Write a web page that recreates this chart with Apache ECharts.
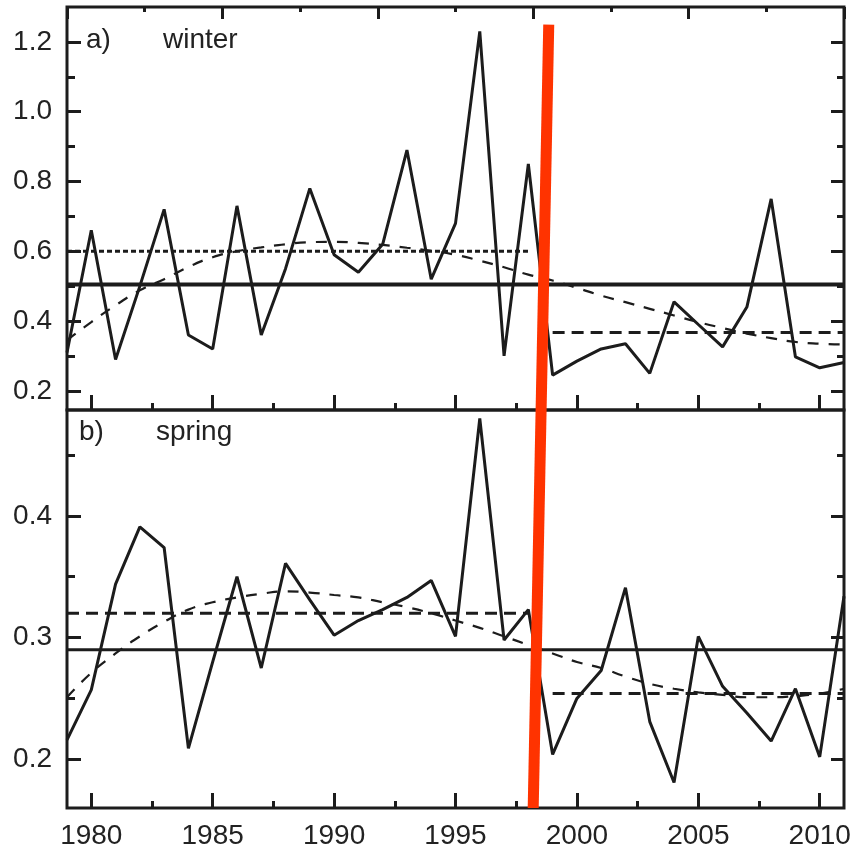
<!DOCTYPE html>
<html>
<head>
<meta charset="utf-8">
<style>
html, body { margin: 0; padding: 0; background: #fff; }
#main { width: 856px; height: 856px; }
</style>
<script src="https://cdn.jsdelivr.net/npm/echarts@6.0.0/dist/echarts.min.js"></script>
</head>
<body>
<div id="main"></div>
<script>
// years on the x axis
var years = [1979, 1980, 1981, 1982, 1983, 1984, 1985, 1986, 1987, 1988, 1989,
    1990, 1991, 1992, 1993, 1994, 1995, 1996, 1997, 1998, 1999, 2000,
    2001, 2002, 2003, 2004, 2005, 2006, 2007, 2008, 2009, 2010, 2011];

// a) winter
var winter = [0.31, 0.66, 0.29, 0.50, 0.72, 0.36, 0.32, 0.73, 0.36, 0.55, 0.78,
    0.59, 0.54, 0.62, 0.89, 0.52, 0.68, 1.23, 0.30, 0.85, 0.245, 0.285,
    0.32, 0.335, 0.25, 0.455, 0.39, 0.326, 0.44, 0.75, 0.297, 0.266, 0.281];
var winterTrend = [0.345, 0.397, 0.445, 0.488, 0.52, 0.555, 0.583, 0.60, 0.611, 0.62, 0.626,
    0.627, 0.624, 0.618, 0.61, 0.601, 0.59, 0.573, 0.554, 0.533, 0.516, 0.495,
    0.473, 0.454, 0.435, 0.416, 0.397, 0.38, 0.364, 0.351, 0.34, 0.335, 0.333];
var winterMean = 0.505;
var winterBefore = 0.60;   // 1979-1998
var winterAfter = 0.367;   // 1999-2011

// b) spring
var spring = [0.216, 0.257, 0.344, 0.391, 0.374, 0.209, 0.28, 0.35, 0.275, 0.361, 0.331,
    0.302, 0.314, 0.323, 0.333, 0.347, 0.301, 0.48, 0.298, 0.323, 0.204, 0.25,
    0.273, 0.341, 0.231, 0.181, 0.301, 0.26, 0.238, 0.215, 0.258, 0.202, 0.334];
var springTrend = [0.251, 0.271, 0.287, 0.301, 0.313, 0.323, 0.329, 0.333, 0.336, 0.338, 0.337,
    0.335, 0.333, 0.329, 0.325, 0.32, 0.314, 0.308, 0.301, 0.294, 0.287, 0.28,
    0.275, 0.268, 0.262, 0.258, 0.255, 0.253, 0.251, 0.251, 0.252, 0.254, 0.258];
var springMean = 0.29;
var springBefore = 0.32;
var springAfter = 0.254;

// break year marker (x in years, y as fraction of the two panels' height)
var breakLine = [[1998.84, 0.978], [1998.2, 0]];

// ticks
var yearLabels = [1980, 1985, 1990, 1995, 2000, 2005, 2010];
var yearMinor = [1982.5, 1987.5, 1992.5, 1997.5, 2002.5, 2007.5];
var winterTicks = [0.2, 0.4, 0.6, 0.8, 1.0, 1.2];
var winterMinor = [0.3, 0.5, 0.7, 0.9, 1.1];
var springTicks = [0.2, 0.3, 0.4];
var springMinor = [0.25, 0.35, 0.45];

var ink = '#1c1c1c';
var font = 'Liberation Sans';

function pairs(vals) {
    return years.map(function (y, i) { return [y, vals[i]]; });
}

function flat(v, from, to) {
    return [[from, v], [to, v]];
}

function axis(extra) {
    var a = {
        type: 'value',
        axisLine: { show: false, onZero: false },
        axisTick: { show: true, inside: true, length: 14, lineStyle: { color: ink, width: 3 } },
        axisLabel: { show: false },
        splitLine: { show: false }
    };
    for (var k in extra) {
        if (k === 'axisTick' || k === 'axisLabel') {
            for (var j in extra[k]) a[k][j] = extra[k][j];
        } else {
            a[k] = extra[k];
        }
    }
    return a;
}

function line(name, data, xi, yi, style) {
    return {
        name: name,
        type: 'line',
        xAxisIndex: xi,
        yAxisIndex: yi,
        data: data,
        symbol: 'none',
        smooth: style.smooth || false,
        lineStyle: { color: ink, width: style.width || 3, type: style.type || 'solid' },
        silent: true,
        z: style.z || 2
    };
}

var chart = echarts.init(document.getElementById('main'));

var option = {
    animation: false,
    backgroundColor: '#fff',
    grid: [
        { left: 67, right: 12, top: 7, height: 403, show: true, borderColor: ink, borderWidth: 3, outerBoundsMode: 'none' },
        { left: 67, right: 12, top: 410, height: 398, show: true, borderColor: ink, borderWidth: 3, outerBoundsMode: 'none' },
        { left: 67, right: 12, top: 7, height: 801, outerBoundsMode: 'none' }
    ],
    xAxis: [
        axis({ gridIndex: 0, position: 'bottom', min: 1979, max: 2011, axisTick: { customValues: yearLabels, length: 15 } }),
        axis({ gridIndex: 0, position: 'bottom', min: 1979, max: 2011, axisTick: { customValues: yearMinor, length: 7 } }),
        axis({ gridIndex: 0, position: 'top', min: 0, max: 10, interval: 2, axisTick: { length: 12 },
            minorTick: { show: true, splitNumber: 2, length: 5, lineStyle: { color: ink, width: 3 } } }),
        axis({ gridIndex: 1, position: 'bottom', min: 1979, max: 2011,
            axisTick: { customValues: yearLabels, length: 15 },
            axisLabel: { show: true, customValues: yearLabels, fontSize: 28, fontFamily: font, color: '#222', margin: 14,
                formatter: function (v) { return String(v); } } }),
        axis({ gridIndex: 1, position: 'bottom', min: 1979, max: 2011, axisTick: { customValues: yearMinor, length: 7 } }),
        axis({ gridIndex: 2, min: 1979, max: 2011, show: false })
    ],
    yAxis: [
        axis({ gridIndex: 0, position: 'left', min: 0.145, max: 1.3,
            axisTick: { customValues: winterTicks },
            axisLabel: { show: true, customValues: winterTicks, fontSize: 28, fontFamily: font, color: '#222', margin: 15,
                formatter: function (v) { return v.toFixed(1); } } }),
        axis({ gridIndex: 0, position: 'left', min: 0.145, max: 1.3, axisTick: { customValues: winterMinor, length: 8 } }),
        axis({ gridIndex: 0, position: 'right', min: 0.145, max: 1.3, axisTick: { customValues: winterTicks, length: 13 } }),
        axis({ gridIndex: 0, position: 'right', min: 0.145, max: 1.3, axisTick: { customValues: winterMinor, length: 7 } }),
        axis({ gridIndex: 1, position: 'left', min: 0.16, max: 0.487,
            axisTick: { customValues: springTicks },
            axisLabel: { show: true, customValues: springTicks, fontSize: 28, fontFamily: font, color: '#222', margin: 15,
                formatter: function (v) { return v.toFixed(1); } } }),
        axis({ gridIndex: 1, position: 'left', min: 0.16, max: 0.487, axisTick: { customValues: springMinor, length: 8 } }),
        axis({ gridIndex: 1, position: 'right', min: 0.16, max: 0.487, axisTick: { customValues: springTicks, length: 13 } }),
        axis({ gridIndex: 1, position: 'right', min: 0.16, max: 0.487, axisTick: { customValues: springMinor, length: 7 } }),
        axis({ gridIndex: 2, min: 0, max: 1, show: false })
    ],
    graphic: [
        { type: 'text', left: 86, top: 26, style: { text: 'a)', font: '28px "Liberation Sans"', fill: '#222' } },
        { type: 'text', left: 163, top: 26, style: { text: 'winter', font: '28px "Liberation Sans"', fill: '#222' } },
        { type: 'text', left: 79, top: 418, style: { text: 'b)', font: '28px "Liberation Sans"', fill: '#222' } },
        { type: 'text', left: 156, top: 418, style: { text: 'spring', font: '28px "Liberation Sans"', fill: '#222' } }
    ],
    series: [
        line('winter', pairs(winter), 0, 0, {}),
        line('winter trend', pairs(winterTrend), 0, 0, { smooth: true, width: 2.2, type: [11, 10] }),
        line('winter mean', flat(winterMean, 1979, 2011), 0, 0, { width: 4 }),
        line('winter before', flat(winterBefore, 1979, 1998), 0, 0, { width: 3, type: [5, 3] }),
        line('winter after', flat(winterAfter, 1999, 2011), 0, 0, { width: 3, type: [12, 7] }),

        line('spring', pairs(spring), 3, 4, {}),
        line('spring trend', pairs(springTrend), 3, 4, { smooth: true, width: 2.2, type: [11, 10] }),
        line('spring mean', flat(springMean, 1979, 2011), 3, 4, { width: 3 }),
        line('spring before', flat(springBefore, 1979, 1998), 3, 4, { width: 3, type: [12, 7] }),
        line('spring after', flat(springAfter, 1999, 2011), 3, 4, { width: 3, type: [12, 7] }),

        {
            name: 'break',
            type: 'line',
            xAxisIndex: 5,
            yAxisIndex: 8,
            data: breakLine,
            symbol: 'none',
            silent: true,
            lineStyle: { color: '#ff3300', width: 11, cap: 'butt' },
            z: 10
        }
    ]
};

chart.setOption(option);
</script>
</body>
</html>
